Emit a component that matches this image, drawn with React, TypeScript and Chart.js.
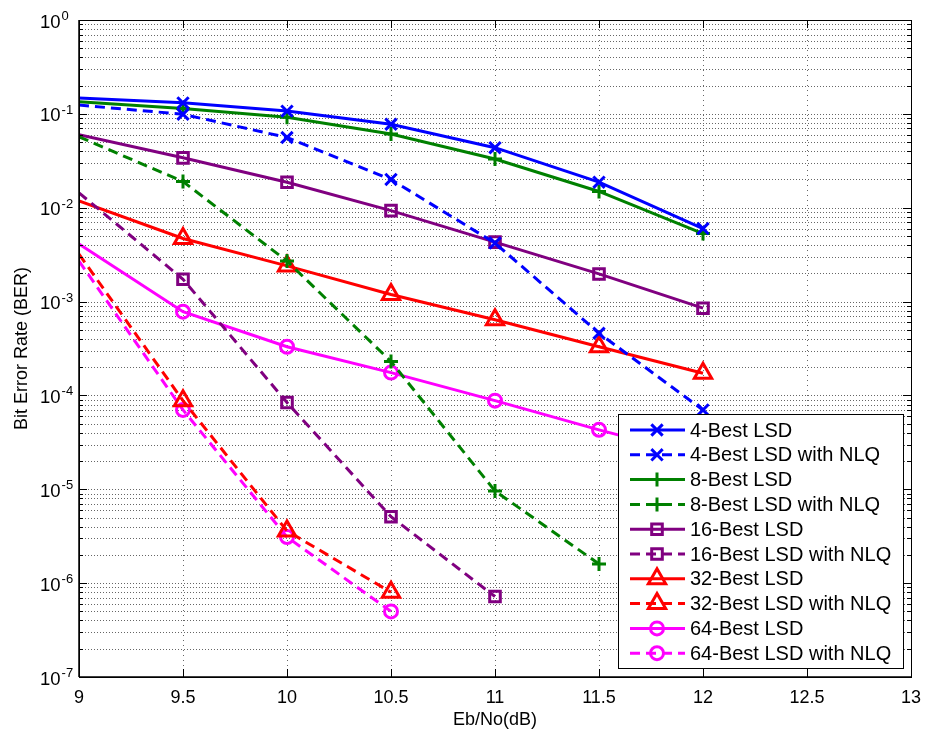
import React, { useEffect, useRef } from 'react';
import { Chart, registerables } from 'chart.js';

Chart.register(...registerables);

// ---- data ----
const snr = [9, 9.5, 10, 10.5, 11, 11.5, 12];
const best4 = [0.148, 0.131, 0.107, 0.0775, 0.0436, 0.0187, 0.006];
const best4NLQ = [0.124, 0.099, 0.056, 0.02, 0.0042, 0.00046, 0.00007];
const best8 = [0.135, 0.114, 0.092, 0.061, 0.033, 0.0149, 0.0053];
const best8NLQ = [0.057, 0.019, 0.0027, 0.00023, 0.0000096, 0.0000016];
const best16 = [0.06, 0.034, 0.0187, 0.0093, 0.0043, 0.00197, 0.00085];
const best16NLQ = [0.0144, 0.00173, 0.000084, 0.0000051, 0.00000072];
const best32 = [0.0118, 0.0047, 0.0024, 0.00119, 0.00064, 0.00033, 0.000172];
const best32NLQ = [0.0032, 0.000088, 0.0000036, 0.0000008];
const best64 = [0.0041, 0.00078, 0.00033, 0.000175, 0.000088, 0.000043, 0.000022];
const best64NLQ = [0.0027, 0.00007, 0.0000031, 0.0000005];

const seriesNames = [
  '4-Best LSD',
  '4-Best LSD with NLQ',
  '8-Best LSD',
  '8-Best LSD with NLQ',
  '16-Best LSD',
  '16-Best LSD with NLQ',
  '32-Best LSD',
  '32-Best LSD with NLQ',
  '64-Best LSD',
  '64-Best LSD with NLQ',
];
const seriesValues = [best4, best4NLQ, best8, best8NLQ, best16, best16NLQ, best32, best32NLQ, best64, best64NLQ];

const xTickValues = [9, 9.5, 10, 10.5, 11, 11.5, 12, 12.5, 13];
const xTickLabels = ['9', '9.5', '10', '10.5', '11', '11.5', '12', '12.5', '13'];
const yDecadeExponents = [0, -1, -2, -3, -4, -5, -6, -7];
const yTickExponentLabels = ['0', '-1', '-2', '-3', '-4', '-5', '-6', '-7'];
const minorMantissas = [2, 3, 4, 5, 6, 7, 8, 9];

const xTitle = 'Eb/No(dB)';
const yTitle = 'Bit Error Rate (BER)';

// ---- styles ----
const seriesColors = ['#0000ff', '#0000ff', '#008000', '#008000', '#800080', '#800080', '#ff0000', '#ff0000', '#ff00ff', '#ff00ff'];
const seriesDashed = [false, true, false, true, false, true, false, true, false, true];
const seriesMarkers = ['crossRot', 'crossRot', 'cross', 'cross', 'rect', 'rect', 'triangle', 'triangle', 'circle', 'circle'];
const markerRadius: Record<string, number> = { crossRot: 8, cross: 7, rect: 7.5, triangle: 10, circle: 6.5 };
const DASH = [10, 6];
const FONT = '"Liberation Sans", Arial, Helvetica, sans-serif';

function drawMarker(ctx: CanvasRenderingContext2D, style: string, x: number, y: number, r: number) {
  ctx.beginPath();
  if (style === 'crossRot') {
    const o = r * Math.SQRT1_2;
    ctx.moveTo(x - o, y - o);
    ctx.lineTo(x + o, y + o);
    ctx.moveTo(x + o, y - o);
    ctx.lineTo(x - o, y + o);
  } else if (style === 'cross') {
    ctx.moveTo(x - r, y);
    ctx.lineTo(x + r, y);
    ctx.moveTo(x, y - r);
    ctx.lineTo(x, y + r);
  } else if (style === 'rect') {
    const s = r * Math.SQRT1_2;
    ctx.rect(x - s, y - s, 2 * s, 2 * s);
  } else if (style === 'triangle') {
    ctx.moveTo(x, y - r);
    ctx.lineTo(x + 0.866 * r, y + 0.5 * r);
    ctx.lineTo(x - 0.866 * r, y + 0.5 * r);
    ctx.closePath();
  } else if (style === 'circle') {
    ctx.arc(x, y, r, 0, Math.PI * 2);
  }
  ctx.stroke();
}

const matlabPlugin = {
  id: 'matlabLook',
  beforeDraw(chart: any) {
    const ctx = chart.ctx as CanvasRenderingContext2D;
    ctx.save();
    ctx.fillStyle = '#ffffff';
    ctx.fillRect(0, 0, chart.width, chart.height);
    ctx.restore();
  },
  beforeDatasetsDraw(chart: any) {
    const ctx = chart.ctx as CanvasRenderingContext2D;
    const { left, right, top, bottom } = chart.chartArea;
    const xs = chart.scales.x;
    const ys = chart.scales.y;
    ctx.save();
    ctx.lineWidth = 1;
    ctx.strokeStyle = 'rgba(0,0,0,0.6)';
    ctx.setLineDash([1, 2]);
    yDecadeExponents.forEach((e) => {
      const vals = [Math.pow(10, e)];
      if (e < 0) minorMantissas.forEach((m) => vals.push(m * Math.pow(10, e)));
      vals.forEach((v) => {
        const y = Math.round(ys.getPixelForValue(v)) + 0.5;
        if (y <= top + 1 || y >= bottom - 1) return;
        ctx.beginPath();
        ctx.moveTo(left, y);
        ctx.lineTo(right, y);
        ctx.stroke();
      });
    });
    ctx.strokeStyle = 'rgba(0,0,0,0.6)';
    ctx.setLineDash([1, 4]);
    xTickValues.forEach((v) => {
      const x = Math.round(xs.getPixelForValue(v)) + 0.5;
      if (x <= left + 1 || x >= right - 1) return;
      ctx.beginPath();
      ctx.moveTo(x, top);
      ctx.lineTo(x, bottom);
      ctx.stroke();
    });
    ctx.restore();
  },
  afterDatasetsDraw(chart: any) {
    const ctx = chart.ctx as CanvasRenderingContext2D;
    const { left, right, top, bottom } = chart.chartArea;
    const xs = chart.scales.x;
    const ys = chart.scales.y;
    ctx.save();
    ctx.setLineDash([]);
    ctx.strokeStyle = '#000';
    ctx.lineWidth = 1;
    ctx.strokeRect(Math.round(left) + 0.5, Math.round(top) + 0.5, Math.round(right - left), Math.round(bottom - top));
    ctx.lineWidth = 1.5;
    ctx.beginPath();
    ctx.moveTo(left, bottom);
    ctx.lineTo(left, top);
    ctx.moveTo(left, bottom);
    ctx.lineTo(right, bottom);
    ctx.stroke();
    ctx.lineWidth = 1;
    yDecadeExponents.forEach((e) => {
      const vals: [number, number][] = [[Math.pow(10, e), 8]];
      if (e < 0) minorMantissas.forEach((m) => vals.push([m * Math.pow(10, e), 4]));
      vals.forEach(([v, len]) => {
        const y = Math.round(ys.getPixelForValue(v)) + 0.5;
        ctx.beginPath();
        ctx.moveTo(left, y);
        ctx.lineTo(left + len, y);
        ctx.moveTo(right, y);
        ctx.lineTo(right - len, y);
        ctx.stroke();
      });
    });
    xTickValues.forEach((v) => {
      const x = Math.round(xs.getPixelForValue(v)) + 0.5;
      ctx.beginPath();
      ctx.moveTo(x, bottom);
      ctx.lineTo(x, bottom - 8);
      ctx.moveTo(x, top);
      ctx.lineTo(x, top + 8);
      ctx.stroke();
    });
    ctx.fillStyle = '#000';
    ctx.font = `18px ${FONT}`;
    ctx.textAlign = 'center';
    ctx.textBaseline = 'alphabetic';
    xTickValues.forEach((v, i) => {
      ctx.fillText(xTickLabels[i], xs.getPixelForValue(v), bottom + 26);
    });
    yDecadeExponents.forEach((e, i) => {
      const y = ys.getPixelForValue(Math.pow(10, e));
      ctx.textAlign = 'left';
      ctx.font = `18.5px ${FONT}`;
      ctx.fillText('10', 40, y + 7.5);
      const w = ctx.measureText('10').width;
      ctx.font = `13px ${FONT}`;
      ctx.fillText(yTickExponentLabels[i], 40 + w + 1, y);
    });
    ctx.font = `18px ${FONT}`;
    ctx.textAlign = 'center';
    ctx.fillText(xTitle, (left + right) / 2, 725);
    ctx.save();
    ctx.translate(27, (top + bottom) / 2);
    ctx.rotate(-Math.PI / 2);
    ctx.fillText(yTitle, 0, 0);
    ctx.restore();

    // legend
    const bx = 618, by = 414, bw = 285, bh = 254;
    ctx.fillStyle = '#fff';
    ctx.fillRect(bx, by, bw, bh);
    ctx.strokeStyle = '#000';
    ctx.lineWidth = 1;
    ctx.strokeRect(bx + 0.5, by + 0.5, bw, bh);
    seriesNames.forEach((name, i) => {
      const y = 430 + i * 24.8;
      ctx.strokeStyle = seriesColors[i];
      ctx.lineWidth = 3;
      ctx.setLineDash(seriesDashed[i] ? DASH : []);
      ctx.beginPath();
      ctx.moveTo(630, y);
      ctx.lineTo(685, y);
      ctx.stroke();
      ctx.setLineDash([]);
      ctx.lineWidth = 3;
      drawMarker(ctx, seriesMarkers[i], 657, y, markerRadius[seriesMarkers[i]]);
      ctx.fillStyle = '#000';
      ctx.font = `20px ${FONT}`;
      ctx.textAlign = 'left';
      ctx.textBaseline = 'middle';
      ctx.fillText(name, 690, y + 1);
    });
    ctx.restore();
  },
};

export default function App() {
  const canvasRef = useRef<HTMLCanvasElement | null>(null);

  useEffect(() => {
    const canvas = canvasRef.current;
    if (!canvas) return;
    const datasets = seriesNames.map((name, i) => ({
      label: name,
      data: seriesValues[i].map((v, j) => ({ x: snr[j], y: v })),
      borderColor: seriesColors[i],
      backgroundColor: 'rgba(0,0,0,0)',
      borderWidth: 3,
      borderDash: seriesDashed[i] ? DASH : [],
      pointStyle: seriesMarkers[i],
      pointRadius: (c: any) => (c.dataIndex === 0 ? 0 : markerRadius[seriesMarkers[i]]),
      pointBorderWidth: 3,
      pointBorderColor: seriesColors[i],
      pointBackgroundColor: 'rgba(0,0,0,0)',
      tension: 0,
      fill: false,
    }));
    const chart = new Chart(canvas, {
      type: 'line',
      data: { datasets },
      options: {
        animation: false,
        responsive: false,
        devicePixelRatio: 1,
        layout: { padding: { left: 79, top: 20, right: 16, bottom: 56 } },
        scales: {
          x: { type: 'linear', min: 9, max: 13, display: false },
          y: { type: 'logarithmic', min: 1e-7, max: 1, display: false },
        },
        plugins: { legend: { display: false }, tooltip: { enabled: false } },
      },
      plugins: [matlabPlugin],
    } as any);
    return () => chart.destroy();
  }, []);

  return (
    <div style={{ position: 'absolute', left: 0, top: 0, width: 927, height: 733, background: '#fff' }}>
      <canvas ref={canvasRef} width={927} height={733} style={{ display: 'block' }} />
    </div>
  );
}
